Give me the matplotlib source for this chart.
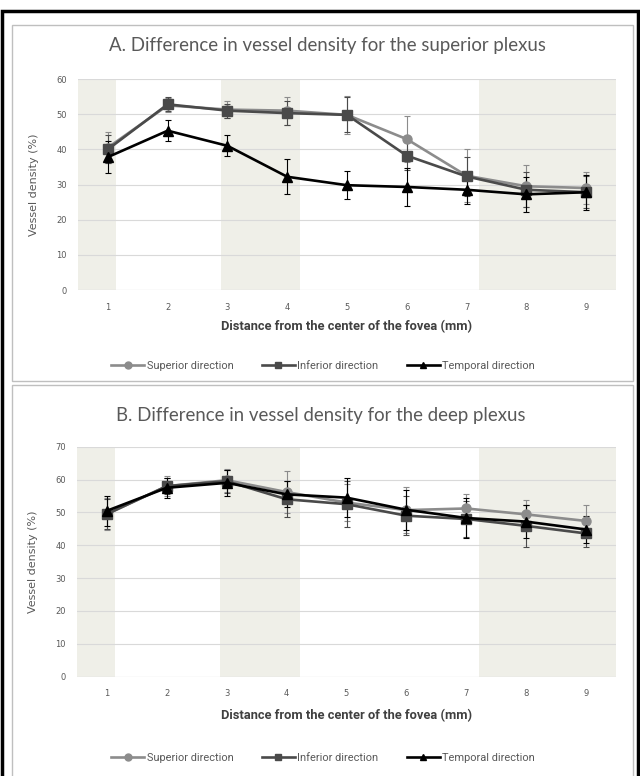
import matplotlib
matplotlib.use("Agg")
import matplotlib.pyplot as plt
from matplotlib.patches import Rectangle
from matplotlib.lines import Line2D

distance = [1, 2, 3, 4, 5, 6, 7, 8, 9]

# A: superior plexus
sup_a = [40.5, 52.5, 51.3, 51.0, 49.8, 42.9, 32.5, 29.5, 29.0]
sup_a_err = [4.5, 2.0, 2.5, 4.0, 5.5, 6.5, 7.5, 6.0, 4.5]
inf_a = [40.0, 52.8, 51.0, 50.3, 49.8, 38.2, 32.3, 28.5, 27.8]
inf_a_err = [4.0, 2.0, 2.0, 3.5, 5.0, 4.0, 5.5, 5.0, 4.5]
tem_a = [37.8, 45.3, 41.0, 32.2, 29.8, 29.3, 28.5, 27.2, 27.8]
tem_a_err = [4.5, 3.0, 3.0, 5.0, 4.0, 5.5, 4.0, 5.0, 5.0]

# B: deep plexus
sup_b = [49.5, 58.0, 59.8, 56.2, 53.0, 50.7, 51.2, 49.4, 47.4]
sup_b_err = [5.0, 3.0, 3.5, 6.5, 5.5, 7.0, 4.5, 4.5, 5.0]
inf_b = [49.5, 58.0, 59.5, 54.0, 52.5, 49.0, 48.0, 45.9, 43.6]
inf_b_err = [4.5, 2.5, 3.5, 5.5, 7.0, 6.0, 5.5, 6.5, 4.0]
tem_b = [50.5, 57.5, 59.0, 55.5, 54.5, 50.8, 48.3, 47.2, 44.8]
tem_b_err = [4.5, 3.0, 4.0, 4.0, 6.0, 6.0, 6.0, 5.0, 4.0]

labels = ["Superior direction", "Inferior direction", "Temporal direction"]
colors = ["#8c8c8c", "#4a4a4a", "#000000"]
markers = ["o", "s", "^"]

txt = "#595959"
band = "#efefe8"
grid = "#d9d9d9"

fig = plt.figure(figsize=(6.4, 7.76), dpi=100)

# outer frame and panel boxes (pixel coords -> figure fraction)
W, H = 640.0, 776.0
def box(x0, y0, x1, y1, **kw):
    fig.patches.append(Rectangle((x0 / W, 1 - y1 / H), (x1 - x0) / W, (y1 - y0) / H,
                                 transform=fig.transFigure, fill=False, **kw))

box(1.5, 10.5, 638, 790, ec="black", lw=2.5)
box(12, 25, 633, 381, ec="#bfbfbf", lw=1.0)
box(12, 385, 633, 800, ec="#bfbfbf", lw=1.0)


def panel(rect, series, ymax, title, title_xy, legend_y):
    ax = fig.add_axes(rect)
    for a, b in [(0.5, 1.14), (2.89, 4.22), (7.21, 9.5)]:
        ax.axvspan(a, b, color=band, lw=0, zorder=0)
    for (vals, errs), lab, c, m in zip(series, labels, colors, markers):
        ax.errorbar(distance, vals, yerr=errs, color=c, marker=m, ms=6.5, lw=1.9,
                    elinewidth=0.8, ecolor=c, capsize=2.5, capthick=0.8, label=lab, zorder=3)
    ax.set_xlim(0.5, 9.5)
    ax.set_ylim(0, ymax)
    ax.set_yticks(range(0, ymax + 1, 10))
    ax.set_xticks(distance)
    ax.yaxis.grid(True, color=grid, lw=0.8)
    ax.set_axisbelow(True)
    for s in ax.spines.values():
        s.set_visible(False)
    ax.axhline(0, color=grid, lw=0.8, zorder=1)
    ax.tick_params(length=0, labelsize=6, labelcolor=txt)
    ax.tick_params(axis="x", pad=9)
    ax.tick_params(axis="y", pad=8)
    ax.set_ylabel("Vessel density (%)", fontsize=8, color=txt)
    ax.yaxis.set_label_coords(-0.072, 0.5)
    ax.set_xlabel("Distance from the center of the fovea (mm)", fontsize=9.3,
                  fontweight="bold", color="#404040", family=["Roboto", "DejaVu Sans"])
    ax.xaxis.set_label_coords(0.5, -0.14)
    fig.text(title_xy[0] / W, 1 - title_xy[1] / H, title, ha="center", va="center",
             fontsize=13.4, color=txt, family=["Lato", "DejaVu Sans"])
    handles = [Line2D([], [], color=c, marker=m, ms=5, lw=1.9) for c, m in zip(colors, markers)]
    fig.legend(handles, labels, loc="center", bbox_to_anchor=(323 / W, 1 - legend_y / H),
               ncol=3, frameon=False, labelcolor=txt, handlelength=3,
               handletextpad=0.2, columnspacing=2.6,
               prop={"family": ["Roboto", "DejaVu Sans"], "size": 7.9})
    return ax


panel([78 / W, 1 - 290 / H, 538 / W, 211 / H],
      [(sup_a, sup_a_err), (inf_a, inf_a_err), (tem_a, tem_a_err)], 60,
      "A. Difference in vessel density for the superior plexus", (327, 46), 366)
panel([77 / W, 1 - 676.7 / H, 539 / W, 230 / H],
      [(sup_b, sup_b_err), (inf_b, inf_b_err), (tem_b, tem_b_err)], 70,
      "B. Difference in vessel density for the deep plexus", (321, 415), 758)

fig.savefig("out.png", dpi=100)
